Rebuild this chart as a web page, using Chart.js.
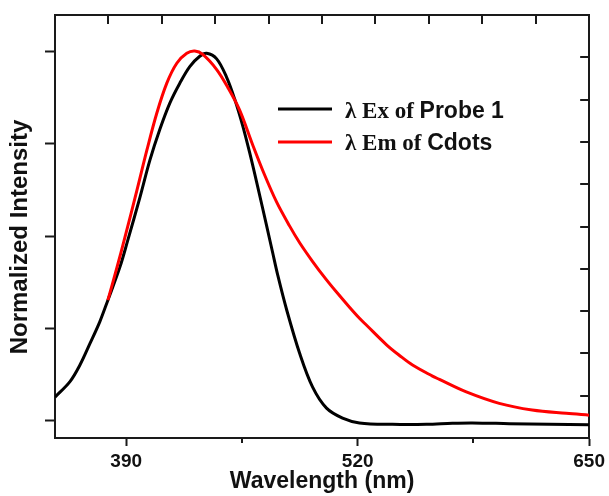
<!DOCTYPE html>
<html><head><meta charset="utf-8">
<script src="https://cdn.jsdelivr.net/npm/chart.js@4"></script>
<style>html,body{margin:0;padding:0;background:#fff}#wrap{width:609px;height:496px}</style>
</head><body><div id="wrap"><canvas id="c" width="609" height="496"></canvas></div>
<script>
// ---- data ----
const exWavelength = [350.0,358.4,364.0,369.6,375.2,379.7,386.4,390.9,397.7,403.3,408.9,414.5,420.1,425.7,431.3,435.2,440.8,446.4,450.9,455.4,459.3,463.8,468.9,472.2,475.0,480.1,487.4,494.7,502.5,511.5,521.0,539.5,558.6,573.2,584.4,605.1,627.6,650.0];
const exIntensity = [0.063,0.105,0.150,0.208,0.268,0.326,0.415,0.489,0.605,0.706,0.790,0.861,0.915,0.960,0.988,0.996,0.981,0.931,0.872,0.800,0.727,0.635,0.527,0.456,0.396,0.300,0.182,0.090,0.033,0.006,-0.007,-0.011,-0.011,-0.008,-0.007,-0.009,-0.011,-0.012];
const emWavelength = [379.7,384.8,389.3,396.0,401.6,407.2,412.8,418.4,424.0,428.5,433.0,440.8,447.0,453.7,461.0,467.8,474.5,481.8,487.4,494.7,502.5,508.1,515.4,521.0,525.0,536.2,543.5,550.8,562.0,565.9,581.0,599.5,618.0,637.1,650.0];
const emIntensity = [0.326,0.415,0.497,0.624,0.733,0.834,0.915,0.969,0.996,1.002,0.993,0.952,0.904,0.842,0.748,0.665,0.592,0.527,0.482,0.431,0.381,0.348,0.307,0.277,0.258,0.205,0.176,0.150,0.120,0.111,0.077,0.046,0.028,0.019,0.014];

const bottomLabelTicks = [390, 520, 650];
const bottomMinorTicks = [455, 585];
const leftTicks = [0, 0.25, 0.5, 0.75, 1.0];
const legendSymbolText = ['λ Ex of ', 'λ Em of '];
const legendNameText = ['Probe 1', 'Cdots'];
const seriesColors = ['#000000', '#ff0000'];
const xTitle = 'Wavelength (nm)';
const yTitle = 'Normalized Intensity';

const toPoints = (xs, ys) => xs.map((x, i) => ({x: x, y: ys[i]}));
const AX = '#1a1a1a';

const decorPlugin = {
  id: 'decor',
  afterDraw(chart) {
    const ctx = chart.ctx;
    const a = chart.chartArea;
    const sx = chart.scales.x, sx2 = chart.scales.x2, sy2 = chart.scales.y2;
    ctx.save();
    ctx.strokeStyle = AX;
    ctx.lineWidth = 2;
    // minor bottom ticks (short, outward)
    bottomMinorTicks.forEach(v => {
      const p = Math.round(sx.getPixelForValue(v));
      ctx.beginPath(); ctx.moveTo(p, a.bottom); ctx.lineTo(p, a.bottom + 5); ctx.stroke();
    });
    // top ticks (inward)
    sx2.ticks.forEach(t => {
      if (t.value <= sx2.min || t.value >= sx2.max) return;
      const p = Math.round(sx2.getPixelForValue(t.value));
      ctx.beginPath(); ctx.moveTo(p, a.top); ctx.lineTo(p, a.top + 9); ctx.stroke();
    });
    // right ticks (inward)
    sy2.ticks.forEach(t => {
      if (t.value <= sy2.min || t.value >= sy2.max) return;
      const p = Math.round(sy2.getPixelForValue(t.value));
      ctx.beginPath(); ctx.moveTo(a.right, p); ctx.lineTo(a.right - 9, p); ctx.stroke();
    });
    // legend
    const rowsY = [109, 142];
    const baseY = [118, 150];
    legendSymbolText.forEach((s, i) => {
      ctx.strokeStyle = seriesColors[i];
      ctx.lineWidth = 3;
      ctx.beginPath(); ctx.moveTo(278, rowsY[i]); ctx.lineTo(332, rowsY[i]); ctx.stroke();
      ctx.fillStyle = '#111';
      ctx.textBaseline = 'alphabetic';
      ctx.textAlign = 'left';
      ctx.font = 'bold 23px "Liberation Serif", "Times New Roman", serif';
      ctx.fillText(s, 345, baseY[i]);
      const w = ctx.measureText(s).width;
      ctx.font = 'bold 23px "Liberation Sans", Arial, sans-serif';
      ctx.fillText(legendNameText[i], 345 + w, baseY[i]);
    });
    // axis titles
    ctx.fillStyle = '#111';
    ctx.font = 'bold 23px "Liberation Sans", Arial, sans-serif';
    ctx.textAlign = 'center';
    ctx.textBaseline = 'alphabetic';
    ctx.fillText(xTitle, (a.left + a.right) / 2, 488);
    ctx.save();
    ctx.translate(27, 237);
    ctx.rotate(-Math.PI / 2);
    ctx.font = 'bold 24px "Liberation Sans", Arial, sans-serif';
    ctx.fillText(yTitle, 0, 0);
    ctx.restore();
    ctx.restore();
  }
};

const borderOpt = {display: true, width: 2, color: AX};

new Chart(document.getElementById('c'), {
  type: 'line',
  data: {
    datasets: [
      {label: 'λ Ex of Probe 1', data: toPoints(exWavelength, exIntensity), borderColor: seriesColors[0], borderWidth: 3, pointRadius: 0, tension: 0.35, fill: false, order: 2, xAxisID: 'x', yAxisID: 'y'},
      {label: 'λ Em of Cdots', data: toPoints(emWavelength, emIntensity), borderColor: seriesColors[1], borderWidth: 3, pointRadius: 0, tension: 0.35, fill: false, order: 1, xAxisID: 'x', yAxisID: 'y'}
    ]
  },
  options: {
    responsive: false,
    animation: false,
    devicePixelRatio: 1,
    layout: {padding: 0},
    plugins: {legend: {display: false}, tooltip: {enabled: false}, title: {display: false}},
    scales: {
      x: {
        type: 'linear', position: 'bottom', min: 350, max: 650,
        afterBuildTicks: s => { s.ticks = bottomLabelTicks.map(v => ({value: v})); },
        ticks: {autoSkip: false, maxRotation: 0, padding: 4, color: '#111',
          font: {family: '"Liberation Sans", Arial, sans-serif', size: 19, weight: 'bold'},
          callback: v => String(v)},
        grid: {drawOnChartArea: false, tickLength: 8, tickWidth: 2, tickColor: AX},
        border: borderOpt,
        afterFit: s => { s.height = 58; }
      },
      y: {
        type: 'linear', position: 'left', min: -0.048, max: 1.10,
        afterBuildTicks: s => { s.ticks = leftTicks.map(v => ({value: v})); },
        ticks: {display: false},
        grid: {drawOnChartArea: false, tickLength: 10, tickWidth: 2, tickColor: AX},
        border: borderOpt,
        afterFit: s => { s.width = 55; }
      },
      x2: {
        type: 'linear', position: 'top', min: 350, max: 650,
        ticks: {display: false, stepSize: 30},
        grid: {drawOnChartArea: false, drawTicks: false},
        border: borderOpt,
        afterFit: s => { s.height = 15; }
      },
      y2: {
        type: 'linear', position: 'right', min: 0, max: 10,
        ticks: {display: false, stepSize: 1},
        grid: {drawOnChartArea: false, drawTicks: false},
        border: borderOpt,
        afterFit: s => { s.width = 19; }
      }
    }
  },
  plugins: [decorPlugin]
});
</script>
</body></html>
